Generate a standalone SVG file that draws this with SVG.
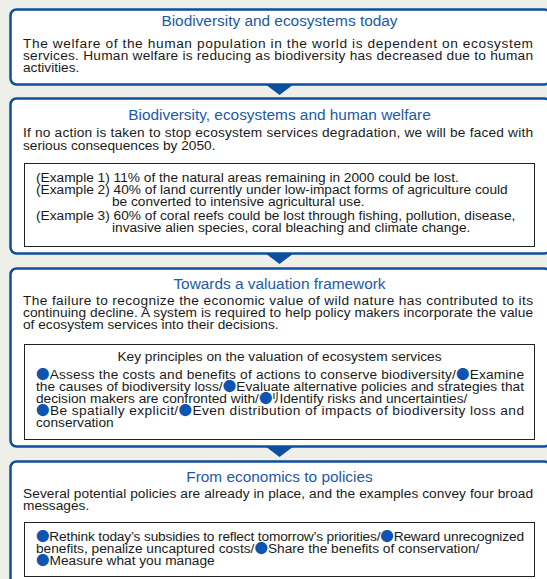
<svg xmlns="http://www.w3.org/2000/svg" width="547" height="579" viewBox="0 0 547 579">
<style>
.bg{fill:#efefe9}
.box{fill:#ffffff;stroke:#0d4f9e;stroke-width:2.5}
.inner{fill:#ffffff;stroke:#222;stroke-width:1}
.title{font-family:"Liberation Sans",Arial,sans-serif;font-size:15.4px;fill:#1b5aa8;text-anchor:middle}
.t{font-family:"Liberation Sans",Arial,sans-serif;font-size:13.7px;fill:#1a1a1a}
.c{text-anchor:middle}
.b{fill:#0d55b0;font-family:"Noto Sans CJK JP",sans-serif;font-size:13.5px}
.arrow{fill:#0d4f9e}
</style>
<rect class="bg" x="0" y="0" width="547" height="579"/>
<g id="connectors">
<polygon class="arrow" points="265,84 294,84 279.5,95"/>
<polygon class="arrow" points="265,253 294,253 279.5,264"/>
<polygon class="arrow" points="265,446 294,446 279.5,457"/>
</g>
<g id="node1">
<rect class="box" x="10.5" y="9.5" width="540" height="75" rx="6"/>
<text class="title" x="279.5" y="26">Biodiversity and ecosystems today</text>
<text class="t" x="23" y="48" textLength="510" lengthAdjust="spacing">The welfare of the human population in the world is dependent on ecosystem</text>
<text class="t" x="23" y="60" textLength="510" lengthAdjust="spacing">services. Human welfare is reducing as biodiversity has decreased due to human</text>
<text class="t" x="23" y="72">activities.</text>
</g>
<g id="node2">
<rect class="box" x="10.5" y="98.5" width="540" height="155" rx="6"/>
<text class="title" x="279.5" y="120">Biodiversity, ecosystems and human welfare</text>
<text class="t" x="23" y="137" textLength="510" lengthAdjust="spacing">If no action is taken to stop ecosystem services degradation, we will be faced with</text>
<text class="t" x="23" y="150">serious consequences by 2050.</text>
<rect class="inner" x="24.5" y="163.5" width="510" height="83"/>
<text class="t" x="36" y="182">(Example 1) 11% of the natural areas remaining in 2000 could be lost.</text>
<text class="t" x="36" y="194">(Example 2) 40% of land currently under low-impact forms of agriculture could</text>
<text class="t" x="112" y="206">be converted to intensive agricultural use.</text>
<text class="t" x="36" y="220">(Example 3) 60% of coral reefs could be lost through fishing, pollution, disease,</text>
<text class="t" x="112" y="232">invasive alien species, coral bleaching and climate change.</text>
</g>
<g id="node3">
<rect class="box" x="10.5" y="268.5" width="540" height="178" rx="6"/>
<text class="title" x="279.5" y="289">Towards a valuation framework</text>
<text class="t" x="23" y="305" textLength="510" lengthAdjust="spacing">The failure to recognize the economic value of wild nature has contributed to its</text>
<text class="t" x="23" y="317" textLength="510" lengthAdjust="spacing">continuing decline. A system is required to help policy makers incorporate the value</text>
<text class="t" x="23" y="329">of ecosystem services into their decisions.</text>
<rect class="inner" x="24.5" y="344.5" width="510" height="95"/>
<text class="t c" x="279.5" y="361">Key principles on the valuation of ecosystem services</text>
<text class="t" x="36" y="379" textLength="488" lengthAdjust="spacing"><tspan class="b">●</tspan>Assess the costs and benefits of actions to conserve biodiversity/<tspan class="b">●</tspan>Examine</text>
<text class="t" x="36" y="391" textLength="488" lengthAdjust="spacing">the causes of biodiversity loss/<tspan class="b">●</tspan>Evaluate alternative policies and strategies that</text>
<text class="t" x="36" y="403">decision makers are confronted with/<tspan class="b">●</tspan>ﾘIdentify risks and uncertainties/</text>
<text class="t" x="36" y="415" textLength="488" lengthAdjust="spacing"><tspan class="b">●</tspan>Be spatially explicit/<tspan class="b">●</tspan>Even distribution of impacts of biodiversity loss and</text>
<text class="t" x="36" y="427">conservation</text>
</g>
<g id="node4">
<rect class="box" x="10.5" y="461.5" width="540" height="140" rx="6"/>
<text class="title" x="279.5" y="482">From economics to policies</text>
<text class="t" x="23" y="498" textLength="510" lengthAdjust="spacing">Several potential policies are already in place, and the examples convey four broad</text>
<text class="t" x="23" y="510">messages.</text>
<rect class="inner" x="24.5" y="522.5" width="510" height="54"/>
<text class="t" x="36" y="541" textLength="488" lengthAdjust="spacing"><tspan class="b">●</tspan>Rethink today’s subsidies to reflect tomorrow’s priorities/<tspan class="b">●</tspan>Reward unrecognized</text>
<text class="t" x="36" y="553">benefits, penalize uncaptured costs/<tspan class="b">●</tspan>Share the benefits of conservation/</text>
<text class="t" x="36" y="565"><tspan class="b">●</tspan>Measure what you manage</text>
</g>
</svg>
